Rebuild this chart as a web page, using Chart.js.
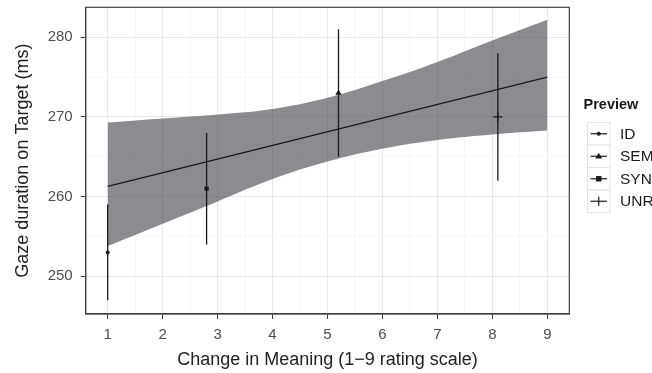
<!DOCTYPE html>
<html>
<head>
<meta charset="utf-8">
<script src="https://cdn.jsdelivr.net/npm/chart.js@4.4.1/dist/chart.umd.min.js"></script>
<style>
  html, body { margin: 0; padding: 0; background: #ffffff; }
  #wrap { width: 652px; height: 373px; position: relative; }
</style>
</head>
<body>
<div id="wrap"><canvas id="c" width="652" height="373"></canvas></div>
<script>
// ---- data ----
const conditions = ['ID', 'SEM', 'SYN', 'UNR'];
const condX     = [1.0, 5.2, 2.8, 8.1];
const condMean  = [253, 273, 261, 270];
const condLow   = [247, 265, 254, 262];
const condHigh  = [259, 281, 268, 278];
const condShape = ['circle', 'triangle', 'rect', 'cross'];
const condSize  = [2, 3.6, 3, 4.5];

const fitX = [1, 9];
const fitY = [261.3, 275.0];

const ribbonX     = [1, 2, 3, 4, 5, 6, 7, 8, 9];
const ribbonUpper = [269.3, 269.8, 270.3, 271.0, 272.4, 274.5, 276.9, 279.6, 282.2];
const ribbonLower = [253.8, 256.6, 259.4, 262.2, 264.4, 266.0, 267.1, 267.8, 268.3];

const xTicks = [1, 2, 3, 4, 5, 6, 7, 8, 9];
const yTicks = [250, 260, 270, 280];

const xTitle = 'Change in Meaning (1\u22129 rating scale)';
const yTitle = 'Gaze duration on Target (ms)';
const legendTitle = 'Preview';

// ---- build datasets ----
const ink = '#1a1a1a';
const FONT = '"Liberation Sans", Arial, sans-serif';
const datasets = [];
datasets.push({
  label: 'lower', data: ribbonX.map((x, i) => ({x, y: ribbonLower[i]})),
  borderWidth: 0, pointRadius: 0, fill: false, tension: 0.4, order: 10
});
datasets.push({
  label: 'upper', data: ribbonX.map((x, i) => ({x, y: ribbonUpper[i]})),
  borderWidth: 0, pointRadius: 0, fill: '-1', backgroundColor: 'rgba(70,70,76,0.62)',
  tension: 0.4, order: 9
});
datasets.push({
  label: 'fit', data: fitX.map((x, i) => ({x, y: fitY[i]})),
  borderColor: ink, borderWidth: 1.3, pointRadius: 0, fill: false, order: 5
});
conditions.forEach((c, i) => {
  datasets.push({
    label: c + ' err', data: [{x: condX[i], y: condLow[i]}, {x: condX[i], y: condHigh[i]}],
    borderColor: ink, borderWidth: 1.3, pointRadius: 0, fill: false, order: 4
  });
  datasets.push({
    label: c, data: [{x: condX[i], y: condMean[i]}], showLine: false,
    pointStyle: condShape[i], pointRadius: condSize[i], pointBorderWidth: condShape[i] === 'cross' ? 1.2 : 0,
    pointBackgroundColor: ink, pointBorderColor: ink, order: 3
  });
});

const isMajorX = v => Math.abs(v - Math.round(v)) < 1e-6;
const isMajorY = v => Math.abs(v / 10 - Math.round(v / 10)) < 1e-6;

const panelBorder = {
  id: 'panelBorder',
  afterDatasetsDraw(chart) {
    const {ctx, chartArea: a} = chart;
    ctx.save();
    ctx.strokeStyle = '#444444';
    ctx.lineWidth = 1.2;
    ctx.strokeRect(a.left, a.top, a.right - a.left, a.bottom - a.top);
    ctx.restore();
  }
};

const customLegend = {
  id: 'customLegend',
  afterDraw(chart) {
    const ctx = chart.ctx;
    ctx.save();
    ctx.fillStyle = '#1a1a1a';
    ctx.font = 'bold 14.5px ' + FONT;
    ctx.textBaseline = 'middle';
    ctx.textAlign = 'left';
    ctx.fillText(legendTitle, 583.5, 105);
    const kx = 587.5, kw = 22.5, ky = 122.5, kh = 22.5;
    conditions.forEach((c, i) => {
      const top = ky + i * kh;
      const cy = top + kh / 2;
      ctx.fillStyle = '#ffffff';
      ctx.fillRect(kx, top, kw, kh);
      ctx.strokeStyle = '#e3e3e3';
      ctx.lineWidth = 1;
      ctx.strokeRect(kx, top, kw, kh);
      ctx.strokeStyle = ink;
      ctx.lineWidth = 1.2;
      ctx.beginPath();
      ctx.moveTo(kx + 3, cy); ctx.lineTo(kx + kw - 3, cy);
      ctx.stroke();
      const cx = kx + kw / 2;
      ctx.fillStyle = ink;
      const s = condShape[i];
      if (s === 'circle') {
        ctx.beginPath(); ctx.arc(cx, cy, 2, 0, Math.PI * 2); ctx.fill();
      } else if (s === 'triangle') {
        ctx.beginPath(); ctx.moveTo(cx, cy - 3.5); ctx.lineTo(cx + 3.5, cy + 2.2); ctx.lineTo(cx - 3.5, cy + 2.2); ctx.closePath(); ctx.fill();
      } else if (s === 'rect') {
        ctx.fillRect(cx - 2.7, cy - 2.7, 5.4, 5.4);
      } else {
        ctx.beginPath(); ctx.moveTo(cx, cy - 4.5); ctx.lineTo(cx, cy + 4.5); ctx.stroke();
      }
      ctx.fillStyle = '#1a1a1a';
      ctx.font = '15.5px ' + FONT;
      ctx.fillText(c, 620, cy + 0.5);
    });
    ctx.restore();
  }
};

new Chart(document.getElementById('c'), {
  type: 'line',
  data: { datasets },
  plugins: [panelBorder, customLegend],
  options: {
    responsive: false,
    animation: false,
    devicePixelRatio: 1,
    layout: { padding: { left: 0, right: 82.7, top: 7.3, bottom: 0 } },
    plugins: { legend: { display: false }, tooltip: { enabled: false } },
    scales: {
      x: {
        type: 'linear', min: 0.6, max: 9.4,
        afterBuildTicks(s) {
          const t = [];
          xTicks.forEach((v, i) => { t.push({value: v}); if (i < xTicks.length - 1) t.push({value: v + 0.5}); });
          s.ticks = t;
        },
        afterFit(s) { s.height = 373 - 314; s.paddingLeft = 0; s.paddingRight = 0; },
        ticks: {
          autoSkip: false, maxRotation: 0, padding: 6.5,
          color: '#4d4d4d', font: { family: FONT, size: 15 },
          callback: v => isMajorX(v) ? String(v) : ''
        },
        grid: {
          drawOnChartArea: true, tickLength: 5,
          color: c => isMajorX(c.tick.value) ? '#e8e8e8' : '#f3f3f3',
          lineWidth: c => isMajorX(c.tick.value) ? 1.1 : 0.7,
          tickColor: c => isMajorX(c.tick.value) ? '#333333' : 'rgba(0,0,0,0)',
          tickWidth: 1
        },
        border: { display: true, color: '#444444', width: 1.2 },
        title: {
          display: true, text: xTitle, color: '#222222',
          font: { family: FONT, size: 18 },
          padding: { top: 0, bottom: 2.5 }
        }
      },
      y: {
        type: 'linear', min: 245.27, max: 283.76,
        afterBuildTicks(s) {
          const t = [];
          yTicks.forEach((v, i) => { t.push({value: v}); if (i < yTicks.length - 1) t.push({value: v + 5}); });
          s.ticks = t;
        },
        afterFit(s) { s.width = 85.7; s.paddingTop = 0; s.paddingBottom = 0; },
        ticks: {
          autoSkip: false, padding: 8,
          color: '#4d4d4d', font: { family: FONT, size: 15 },
          callback: v => isMajorY(v) ? String(v) : ''
        },
        grid: {
          drawOnChartArea: true, tickLength: 5,
          color: c => isMajorY(c.tick.value) ? '#e8e8e8' : '#f3f3f3',
          lineWidth: c => isMajorY(c.tick.value) ? 1.1 : 0.7,
          tickColor: c => isMajorY(c.tick.value) ? '#333333' : 'rgba(0,0,0,0)',
          tickWidth: 1
        },
        border: { display: true, color: '#444444', width: 1.2 },
        title: {
          display: true, text: yTitle, color: '#222222',
          font: { family: FONT, size: 18 },
          padding: { top: 12, bottom: 0 }
        }
      }
    }
  }
});
</script>
</body>
</html>
